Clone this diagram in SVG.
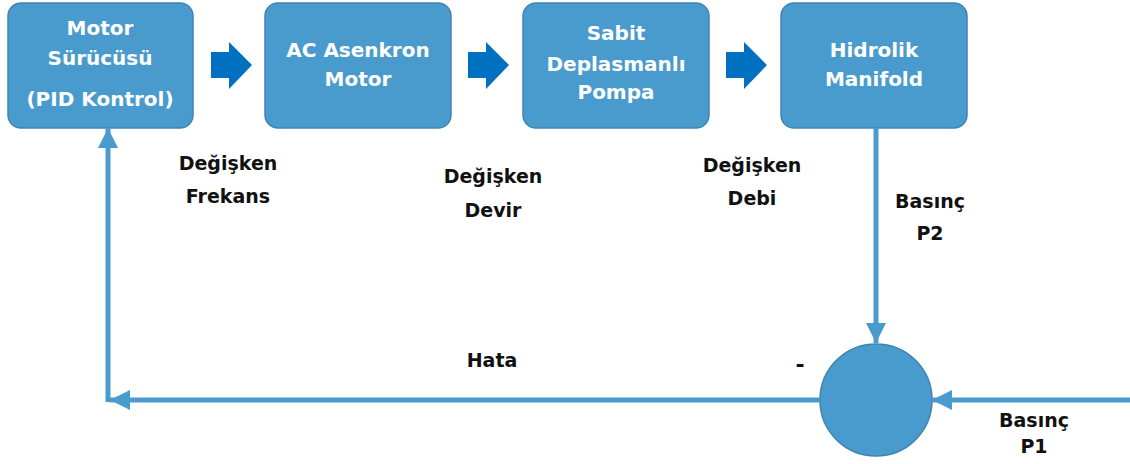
<svg xmlns="http://www.w3.org/2000/svg" width="1130" height="464" viewBox="0 0 1130 464">
<style>
.box{fill:#4A9BCD;stroke:#3F84B4;stroke-width:1.5}
.bt{font-family:"DejaVu Sans",sans-serif;font-weight:bold;font-size:20px;fill:#fff;text-anchor:middle}
.lb{font-family:"DejaVu Sans",sans-serif;font-weight:bold;font-size:19px;fill:#111;text-anchor:middle}
.ln{fill:none;stroke:#4A9BCD;stroke-width:5}
.blk{fill:#0070C0}
</style>
<defs>
<marker id="ah" markerUnits="userSpaceOnUse" markerWidth="20" markerHeight="20" viewBox="0 0 20 20" refX="20" refY="10" orient="auto">
<path d="M0,0 L20,10 L0,20 Z" fill="#4A9BCD"/>
</marker>
</defs>
<g id="n1"><rect class="box" x="8" y="3" width="185" height="125" rx="13"/>
<text class="bt" x="100" y="35">Motor</text><text class="bt" x="100" y="65">Sürücüsü</text><text class="bt" x="100" y="106">(PID Kontrol)</text></g>
<g id="n2"><rect class="box" x="265" y="3" width="186" height="125" rx="13"/>
<text class="bt" x="358" y="57">AC Asenkron</text><text class="bt" x="358" y="86">Motor</text></g>
<g id="n3"><rect class="box" x="523" y="3" width="186" height="125" rx="13"/>
<text class="bt" x="616" y="40">Sabit</text><text class="bt" x="616" y="71">Deplasmanlı</text><text class="bt" x="616" y="99">Pompa</text></g>
<g id="n4"><rect class="box" x="781" y="3" width="186" height="125" rx="13"/>
<text class="bt" x="874" y="57">Hidrolik</text><text class="bt" x="874" y="86">Manifold</text></g>
<g id="sum"><circle cx="876" cy="400" r="56" fill="#4A9BCD" stroke="#3F84B4" stroke-width="1.5"/></g>
<g id="connectors">
<path class="blk" d="M211,52 H229 V42 L252,65 L229,89 V78 H211 Z"/>
<path class="blk" d="M468,52 H486 V42 L509,65 L486,89 V78 H468 Z"/>
<path class="blk" d="M726,52 H744 V42 L767,65 L744,89 V78 H726 Z"/>
<path class="ln" d="M876,128 V343" marker-end="url(#ah)"/>
<path class="ln" d="M1130,400 H932" marker-end="url(#ah)"/>
<path class="ln" d="M820,400 H110" marker-end="url(#ah)"/>
<path class="ln" d="M108,402 V128" marker-end="url(#ah)"/>
</g>
<g id="labels">
<text class="lb" x="228" y="170">Değişken</text><text class="lb" x="228" y="203">Frekans</text>
<text class="lb" x="493" y="183">Değişken</text><text class="lb" x="493" y="217">Devir</text>
<text class="lb" x="752" y="172">Değişken</text><text class="lb" x="752" y="205">Debi</text>
<text class="lb" x="930" y="208">Basınç</text><text class="lb" x="930" y="240">P2</text>
<text class="lb" x="492" y="367">Hata</text>
<text class="lb" x="800" y="372" style="font-size:22px">-</text>
<text class="lb" x="1034" y="427">Basınç</text><text class="lb" x="1034" y="453">P1</text>
</g>
</svg>
